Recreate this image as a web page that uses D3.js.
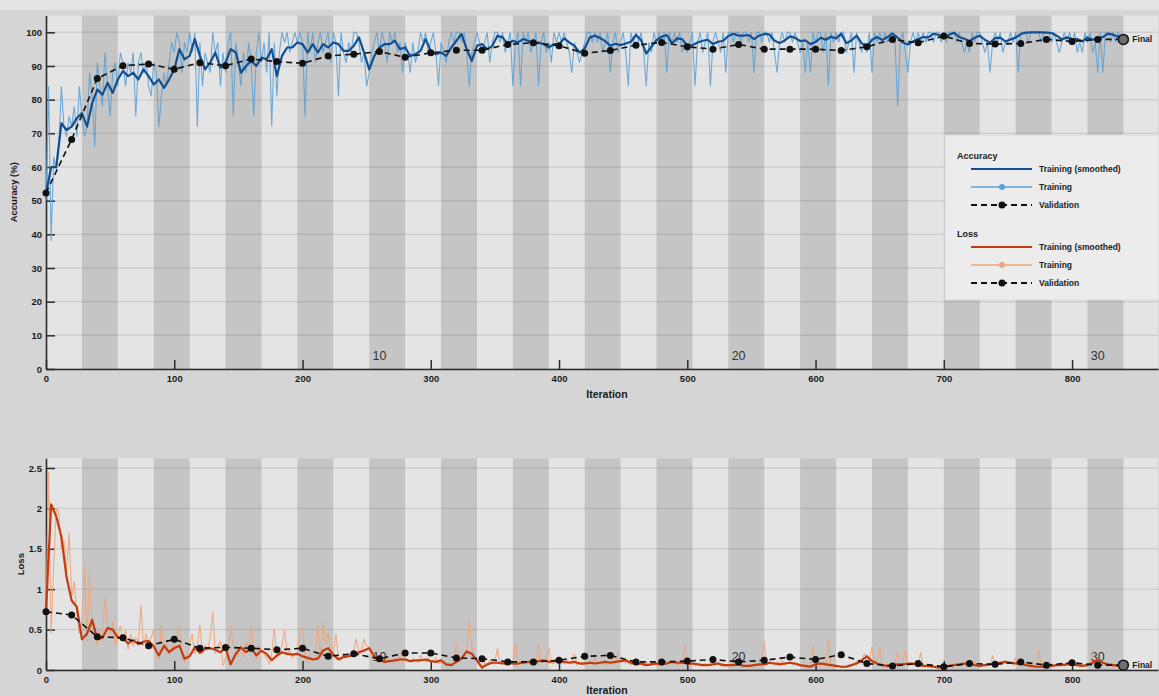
<!DOCTYPE html>
<html lang="en">
<head>
<meta charset="UTF-8">
<title>Training Progress</title>
<style>
    body {
        margin: 0;
        background: #d5d5d5;
        overflow: hidden;
    }
    svg {
        display: block;
    }
    text {
        font-family: "Liberation Sans", Arial, sans-serif;
        fill: #1a1a1a;
    }
</style>
</head>
<body>
<svg width="1159" height="696"></svg>
<script src="https://d3js.org/d3.v7.min.js"></script>
<script>
    // training setup
    const ITERS_PER_EPOCH = 28;
    const NUM_EPOCHS = 30;
    const FINAL_ITER = 840;
    const VAL_EVERY = 20;   // validation frequency (iterations)
    const RAW_STEP = 2;     // raw mini-batch values, every 2 iterations
    const SMOOTH_STEP = 4;  // smoothed curve, every 4 iterations

    const iterTicks = [0, 100, 200, 300, 400, 500, 600, 700, 800];
    const accTicks = [0, 10, 20, 30, 40, 50, 60, 70, 80, 90, 100];
    const lossTicks = [0, 0.5, 1, 1.5, 2, 2.5];
    const epochLabels = [10, 20, 30];

    // accuracy (%) - training mini-batch, every 2 iterations
    const accTrain = [
        50, 84, 38, 63, 59, 66, 84, 72, 69, 75,
        72, 78, 69, 84, 75, 69, 72, 88, 81, 66,
        91, 84, 78, 94, 84, 75, 88, 91, 84, 94,
        91, 84, 91, 88, 94, 75, 91, 94, 88, 91,
        84, 81, 91, 88, 72, 81, 88, 84, 91, 97,
        94, 100, 97, 88, 97, 94, 100, 94, 100, 72,
        97, 84, 94, 91, 88, 100, 94, 97, 84, 94,
        88, 97, 100, 75, 97, 91, 84, 94, 88, 97,
        91, 75, 94, 100, 91, 97, 88, 100, 72, 97,
        81, 94, 100, 97, 100, 94, 97, 100, 97, 100,
        97, 75, 100, 94, 100, 91, 97, 100, 94, 97,
        100, 91, 100, 97, 81, 100, 94, 91, 97, 94,
        100, 100, 97, 91, 94, 84, 88, 94, 97, 100,
        94, 100, 97, 91, 100, 97, 100, 94, 97, 88,
        97, 94, 88, 97, 91, 94, 100, 97, 100, 94,
        97, 100, 94, 84, 97, 94, 91, 97, 100, 97,
        100, 100, 97, 100, 94, 84, 94, 97, 100, 97,
        94, 97, 100, 91, 97, 100, 100, 97, 100, 94,
        97, 100, 84, 97, 100, 84, 100, 97, 100, 94,
        97, 100, 84, 97, 100, 94, 97, 91, 100, 97,
        100, 97, 100, 97, 94, 88, 97, 94, 91, 94,
        97, 100, 100, 97, 100, 97, 100, 94, 97, 100,
        88, 97, 100, 94, 97, 100, 94, 84, 100, 97,
        100, 97, 100, 94, 84, 97, 94, 100, 97, 100,
        97, 100, 88, 100, 97, 100, 97, 100, 94, 97,
        94, 97, 100, 84, 97, 100, 94, 97, 100, 84,
        97, 100, 97, 94, 100, 88, 100, 100, 97, 100,
        100, 97, 100, 100, 97, 100, 88, 100, 100, 97,
        100, 100, 97, 100, 94, 88, 97, 100, 97, 100,
        100, 97, 100, 97, 94, 97, 88, 97, 88, 100,
        97, 100, 100, 94, 100, 84, 100, 97, 100, 97,
        100, 100, 94, 97, 100, 88, 100, 97, 94, 97,
        94, 100, 88, 100, 97, 100, 97, 100, 97, 100,
        100, 97, 78, 97, 100, 94, 88, 97, 100, 97,
        100, 97, 100, 97, 100, 100, 97, 100, 100, 97,
        100, 97, 100, 100, 100, 97, 100, 97, 94, 97,
        94, 100, 97, 100, 100, 97, 94, 97, 88, 97,
        100, 97, 100, 94, 97, 97, 100, 97, 100, 88,
        100, 100, 100, 97, 100, 100, 100, 100, 97, 100,
        100, 100, 97, 100, 97, 94, 97, 100, 97, 100,
        97, 100, 94, 97, 94, 100, 97, 100, 94, 97,
        88, 100, 88, 100, 100, 97, 100, 97, 100, 97,
        97
    ];

    // accuracy (%) - smoothed, every 4 iterations
    const accSmooth = [
        52, 60, 60, 73, 71, 72, 74.5, 76, 72, 79,
        83, 81.5, 85, 82, 86, 88.5, 87, 88, 86, 89,
        87, 84.5, 86, 83.5, 86, 89, 95, 92, 93, 98,
        93, 89, 91, 94, 89.5, 91, 95, 94, 88, 90,
        91.5, 90, 92.5, 92, 95, 87, 93, 95.5, 95.5, 97,
        96.5, 94, 96.5, 94, 96.5, 95.5, 97, 96.5, 94.5, 94.5,
        96, 98.5, 94, 89, 93, 95.5, 96.5, 96.5, 97.5, 95,
        95.5, 93, 93.5, 94.5, 98, 94.5, 93.5, 94, 93, 95.5,
        97.5, 99.5, 95, 91.5, 96, 96.5, 95, 96, 99, 98.5,
        96.5, 97.5, 97, 98, 97.5, 96.5, 97, 96.5, 95.5, 96.5,
        96.5, 98.2, 97, 96, 94, 95.2, 98.5, 99, 98.3, 97.4,
        96, 96.6, 96.2, 96.7, 97.2, 99.2, 97.7, 93.7, 95.7, 97.7,
        98.7, 99.2, 96.7, 98.2, 98, 96, 96.2, 97, 97.5, 97.8,
        96.5, 97.2, 97.5, 98.9, 99.6, 99, 99, 99.2, 98, 99,
        99.5, 99.4, 97.5, 96.8, 97.6, 98.8, 98.4, 97.4, 97.6, 96.5,
        97.1, 98.4, 97.8, 98.7, 98.2, 99.6, 96.8, 97.6, 99, 96.7,
        95.7, 97.8, 98.6, 97.7, 98.6, 99.6, 98.4, 97, 96.4, 97.3,
        98, 98.6, 98.5, 99.6, 99.2, 98.2, 99.2, 99.9, 98.6, 98.1,
        97.4, 98.4, 99, 97.8, 96.9, 98.3, 98.4, 97.3, 97.9, 98.4,
        99.5, 99.9, 100, 100, 100, 99.9, 99.8, 99, 97.9, 98.5,
        98, 98, 97.3, 98.5, 97.8, 98.2, 98.6, 99.6, 99.3, 98.7,
        98
    ];

    // accuracy (%) - validation, every 20 iterations
    const accVal = [
        52.3, 68.2, 86.3, 90.1, 90.6, 89.0, 91.0, 90.1, 92.1, 91.3,
        90.8, 93.0, 93.5, 94.3, 92.6, 93.9, 94.7, 94.7, 96.4, 96.9,
        96.0, 93.8, 94.6, 96.2, 97.0, 95.7, 95.0, 96.4, 95.0, 95.0,
        95.0, 94.6, 95.7, 97.9, 96.9, 98.9, 96.7, 96.5, 96.7, 97.9,
        97.3, 97.9, 97.9
    ];

    // loss - training mini-batch, every 2 iterations
    const lossTrain = [
        0.72, 2.45, 0.45, 1.3, 2.0, 1.95, 1.5, 1.6, 1.2, 1.7,
        0.9, 1.1, 0.7, 0.45, 0.6, 1.3, 0.35, 1.2, 0.55, 0.45,
        0.3, 0.5, 0.35, 0.9, 0.55, 0.45, 0.6, 0.3, 0.4, 0.55,
        0.35, 0.5, 0.25, 0.45, 0.3, 0.4, 0.35, 0.8, 0.3, 0.45,
        0.3, 0.4, 0.5, 0.2, 0.12, 0.55, 0.25, 0.35, 0.2, 0.3,
        0.28, 0.4, 0.55, 0.15, 0.1, 0.2, 0.3, 0.45, 0.2, 0.3,
        0.56, 0.2, 0.3, 0.25, 0.4, 0.72, 0.2, 0.3, 0.35, 0.05,
        0.15, 0.22, 0.55, 0.3, 0.25, 0.2, 0.3, 0.15, 0.35, 0.25,
        0.55, 0.2, 0.15, 0.3, 0.25, 0.2, 0.15, 0.08, 0.2, 0.52,
        0.15, 0.2, 0.3, 0.5, 0.2, 0.25, 0.15, 0.2, 0.2, 0.5,
        0.52, 0.15, 0.1, 0.2, 0.12, 0.15, 0.56, 0.15, 0.58, 0.3,
        0.45, 0.25, 0.2, 0.45, 0.15, 0.12, 0.2, 0.15, 0.2, 0.18,
        0.25, 0.39, 0.2, 0.25, 0.38, 0.3, 0.28, 0.15, 0.2, 0.1,
        0.15, 0.1, 0.08, 0.15, 0.12, 0.1, 0.15, 0.12, 0.2, 0.1,
        0.15, 0.12, 0.1, 0.14, 0.12, 0.1, 0.18, 0.12, 0.1, 0.15,
        0.1, 0.12, 0.15, 0.08, 0.1, 0.12, 0.05, 0.08, 0.06, 0.1,
        0.33, 0.12, 0.15, 0.2, 0.25, 0.62, 0.3, 0.15, 0.1, 0.05,
        0.03, 0.1, 0.05, 0.12, 0.08, 0.1, 0.27, 0.08, 0.1, 0.06,
        0.1, 0.08, 0.1, 0.33, 0.06, 0.1, 0.12, 0.08, 0.1, 0.12,
        0.08, 0.1, 0.33, 0.12, 0.1, 0.12, 0.27, 0.1, 0.08, 0.12,
        0.15, 0.1, 0.08, 0.12, 0.1, 0.08, 0.2, 0.06, 0.1, 0.08,
        0.1, 0.06, 0.12, 0.08, 0.15, 0.06, 0.1, 0.08, 0.12, 0.06,
        0.1, 0.12, 0.08, 0.2, 0.1, 0.15, 0.08, 0.1, 0.06, 0.08,
        0.1, 0.06, 0.08, 0.05, 0.1, 0.06, 0.08, 0.1, 0.05, 0.08,
        0.06, 0.1, 0.08, 0.12, 0.08, 0.1, 0.06, 0.08, 0.12, 0.31,
        0.08, 0.06, 0.1, 0.05, 0.08, 0.06, 0.05, 0.08, 0.06, 0.05,
        0.08, 0.06, 0.1, 0.05, 0.08, 0.04, 0.06, 0.05, 0.08, 0.06,
        0.05, 0.08, 0.04, 0.06, 0.05, 0.03, 0.08, 0.05, 0.06, 0.08,
        0.35, 0.06, 0.1, 0.08, 0.06, 0.1, 0.08, 0.12, 0.06, 0.08,
        0.1, 0.06, 0.08, 0.05, 0.06, 0.04, 0.05, 0.03, 0.06, 0.31,
        0.06, 0.08, 0.05, 0.1, 0.06, 0.37, 0.05, 0.06, 0.04, 0.05,
        0.03, 0.05, 0.04, 0.06, 0.05, 0.08, 0.1, 0.08, 0.12, 0.2,
        0.15, 0.12, 0.29, 0.08, 0.1, 0.28, 0.06, 0.05, 0.04, 0.06,
        0.05, 0.08, 0.22, 0.06, 0.08, 0.25, 0.05, 0.08, 0.06, 0.1,
        0.05, 0.22, 0.04, 0.06, 0.05, 0.03, 0.04, 0.05, 0.03, 0.04,
        0.03, 0.05, 0.04, 0.06, 0.08, 0.06, 0.07, 0.09, 0.06, 0.1,
        0.08, 0.06, 0.1, 0.05, 0.04, 0.06, 0.05, 0.08, 0.06, 0.17,
        0.06, 0.08, 0.1, 0.08, 0.12, 0.08, 0.1, 0.06, 0.15, 0.08,
        0.08, 0.1, 0.06, 0.05, 0.04, 0.06, 0.05, 0.25, 0.04, 0.05,
        0.03, 0.05, 0.04, 0.06, 0.05, 0.06, 0.08, 0.05, 0.06, 0.08,
        0.07, 0.05, 0.06, 0.04, 0.05, 0.06, 0.04, 0.08, 0.25, 0.1,
        0.12, 0.08, 0.1, 0.06, 0.05, 0.08, 0.04, 0.06, 0.05, 0.04,
        0.05
    ];

    // loss - smoothed, every 4 iterations
    const lossSmooth = [
        0.74, 2.05, 1.9, 1.65, 1.15, 0.86, 0.78, 0.38, 0.45, 0.62,
        0.38, 0.40, 0.52, 0.5, 0.4, 0.39, 0.33, 0.37, 0.32, 0.35,
        0.36, 0.29, 0.18, 0.3, 0.22, 0.27, 0.3, 0.14, 0.17, 0.28,
        0.21, 0.26, 0.27, 0.25, 0.22, 0.27, 0.07, 0.2, 0.28, 0.22,
        0.27, 0.18, 0.24, 0.2, 0.12, 0.18, 0.22, 0.2, 0.19, 0.2,
        0.17, 0.15, 0.13, 0.14, 0.24, 0.27, 0.19, 0.13, 0.16, 0.17,
        0.19, 0.22, 0.24, 0.27, 0.17, 0.13, 0.1, 0.11, 0.12, 0.13,
        0.13, 0.11, 0.12, 0.12, 0.13, 0.11, 0.1, 0.12, 0.07, 0.06,
        0.1, 0.14, 0.23, 0.2, 0.12, 0.03, 0.07, 0.09, 0.09, 0.08,
        0.09, 0.08, 0.08, 0.09, 0.1, 0.09, 0.11, 0.12, 0.1, 0.11,
        0.12, 0.1, 0.09, 0.1, 0.08, 0.08, 0.09, 0.08, 0.09, 0.1,
        0.09, 0.1, 0.11, 0.12, 0.09, 0.08, 0.08, 0.06, 0.07, 0.08,
        0.07, 0.08, 0.1, 0.09, 0.09, 0.08, 0.08, 0.07, 0.06, 0.06,
        0.07, 0.08, 0.06, 0.06, 0.06, 0.07, 0.05, 0.05, 0.06, 0.07,
        0.07, 0.09, 0.08, 0.07, 0.08, 0.09, 0.08, 0.06, 0.05, 0.04,
        0.07, 0.08, 0.07, 0.06, 0.05, 0.04, 0.04, 0.06, 0.08, 0.12,
        0.17, 0.11, 0.08, 0.06, 0.05, 0.06, 0.07, 0.07, 0.08, 0.08,
        0.06, 0.05, 0.05, 0.04, 0.03, 0.04, 0.05, 0.06, 0.07, 0.08,
        0.08, 0.06, 0.05, 0.06, 0.07, 0.08, 0.09, 0.1, 0.09, 0.08,
        0.08, 0.06, 0.05, 0.04, 0.04, 0.04, 0.05, 0.06, 0.06, 0.07,
        0.07, 0.06, 0.05, 0.06, 0.09, 0.12, 0.09, 0.07, 0.06, 0.05,
        0.05
    ];

    // loss - validation, every 20 iterations
    const lossVal = [
        0.72, 0.68, 0.41, 0.40, 0.30, 0.38, 0.27, 0.28, 0.27, 0.25,
        0.27, 0.17, 0.20, 0.14, 0.21, 0.21, 0.15, 0.14, 0.10, 0.10,
        0.12, 0.17, 0.18, 0.10, 0.10, 0.11, 0.13, 0.10, 0.12, 0.16,
        0.13, 0.19, 0.08, 0.05, 0.08, 0.04, 0.08, 0.07, 0.10, 0.06,
        0.09, 0.06, 0.06
    ];

    const svg = d3.select("svg");
    const W = 1159;

    svg.append("rect").attr("width", W).attr("height", 696).attr("fill", "#d5d5d5");
    svg.append("rect").attr("width", W).attr("height", 10).attr("fill", "#e3e3e3");

    const x = d3.scaleLinear().domain([0, 867]).range([46, 1158]);

    function drawPanel(p) {
        const g = svg.append("g");
        const y = p.y;
        const [yBottom, yTop] = y.range();

        // epoch bands
        g.append("rect")
            .attr("x", x(0)).attr("y", yTop)
            .attr("width", x.range()[1] - x(0)).attr("height", yBottom - yTop)
            .attr("fill", "#e4e4e4");
        g.selectAll("rect.band")
            .data(d3.range(2, NUM_EPOCHS + 1, 2))
            .join("rect")
            .attr("class", "band")
            .attr("x", k => x((k - 1) * ITERS_PER_EPOCH))
            .attr("y", yTop)
            .attr("width", k => x(k * ITERS_PER_EPOCH) - x((k - 1) * ITERS_PER_EPOCH))
            .attr("height", yBottom - yTop)
            .attr("fill", "#c5c5c5");

        // horizontal grid
        g.selectAll("line.grid")
            .data(p.ticks)
            .join("line")
            .attr("class", "grid")
            .attr("x1", x(0)).attr("x2", x.range()[1])
            .attr("y1", d => y(d)).attr("y2", d => y(d))
            .attr("stroke", "#000").attr("stroke-opacity", 0.09).attr("stroke-width", 1.5);

        // epoch numbers
        g.selectAll("text.epoch")
            .data(epochLabels)
            .join("text")
            .attr("class", "epoch")
            .attr("x", k => x(k * ITERS_PER_EPOCH - 20))
            .attr("y", yBottom - 9)
            .attr("text-anchor", "middle")
            .attr("font-size", 12.5)
            .style("fill", "#333")
            .text(k => k);

        // axes
        const yAxis = d3.axisLeft(y).tickValues(p.ticks).tickFormat(p.fmt)
            .tickSizeInner(-9).tickSizeOuter(0).tickPadding(4);
        const xAxis = d3.axisBottom(x).tickValues(iterTicks).tickFormat(d3.format("d"))
            .tickSizeInner(-9).tickSizeOuter(0).tickPadding(6);

        const ya = g.append("g").attr("transform", `translate(${x(0)},0)`).call(yAxis);
        const xa = g.append("g").attr("transform", `translate(0,${yBottom})`).call(xAxis);
        [ya, xa].forEach(a => {
            a.select(".domain").attr("stroke", "#2b2b2b").attr("stroke-width", 1.6);
            a.selectAll(".tick line").attr("stroke", "#2b2b2b").attr("stroke-width", 1.5);
            a.selectAll(".tick text")
                .attr("font-family", "'Liberation Sans', Arial, sans-serif")
                .attr("font-size", 9.5).attr("font-weight", "bold")
                .style("fill", "#1a1a1a");
        });

        // axis labels
        g.append("text")
            .attr("transform", `translate(${p.labelX},${(yTop + yBottom) / 2}) rotate(-90)`)
            .attr("text-anchor", "middle")
            .attr("font-size", 9.5).attr("font-weight", "bold")
            .text(p.label);
        g.append("text")
            .attr("x", 607).attr("y", p.iterLabelY)
            .attr("text-anchor", "middle")
            .attr("font-size", 10.5).attr("font-weight", "bold")
            .text("Iteration");

        // data
        const rawLine = d3.line().x((d, i) => x(i * RAW_STEP)).y(d => y(d));
        const smoothLine = d3.line().x((d, i) => x(i * SMOOTH_STEP)).y(d => y(d));
        const valLine = d3.line().x((d, i) => x(i * VAL_EVERY)).y(d => y(d));

        g.append("path").datum(p.raw)
            .attr("d", rawLine).attr("fill", "none")
            .attr("stroke", p.rawColor).attr("stroke-width", 1.1).attr("stroke-opacity", 0.9);
        g.append("path").datum(p.smooth)
            .attr("d", smoothLine).attr("fill", "none")
            .attr("stroke", p.smoothColor).attr("stroke-width", 2.2).attr("stroke-linejoin", "round");
        g.append("path").datum(p.val)
            .attr("d", valLine).attr("fill", "none")
            .attr("stroke", "#111").attr("stroke-width", 1.6).attr("stroke-dasharray", "6,4");
        g.selectAll("circle.val")
            .data(p.val.slice(0, -1))
            .join("circle")
            .attr("class", "val")
            .attr("cx", (d, i) => x(i * VAL_EVERY))
            .attr("cy", d => y(d))
            .attr("r", 3.5)
            .attr("fill", "#111");

        // final point
        const last = p.val[p.val.length - 1];
        g.append("circle")
            .attr("cx", x(FINAL_ITER)).attr("cy", y(last)).attr("r", 5)
            .attr("fill", "#6e6e6e").attr("stroke", "#111").attr("stroke-width", 1.5);
        g.append("text")
            .attr("x", x(FINAL_ITER) + 9).attr("y", y(last))
            .attr("dy", "0.35em")
            .attr("font-size", 8.5).attr("font-weight", "bold")
            .text("Final");
    }

    drawPanel({
        y: d3.scaleLinear().domain([0, 105]).range([369, 15.5]),
        ticks: accTicks,
        fmt: d3.format("d"),
        raw: accTrain, smooth: accSmooth, val: accVal,
        rawColor: "#5fa2d4", smoothColor: "#124f91",
        label: "Accuracy (%)", labelX: 17, iterLabelY: 398
    });

    drawPanel({
        y: d3.scaleLinear().domain([0, 2.62]).range([670, 458.3]),
        ticks: lossTicks,
        fmt: d => String(d),
        raw: lossTrain, smooth: lossSmooth, val: lossVal,
        rawColor: "#eea47a", smoothColor: "#c23c10",
        label: "Loss", labelX: 24, iterLabelY: 694
    });

    // legend
    const lg = svg.append("g").attr("transform", "translate(945,135)");
    lg.append("rect")
        .attr("width", 214).attr("height", 165)
        .attr("fill", "#ececec").attr("stroke", "#dadada");

    const legendGroups = [
        { title: "Accuracy", top: 0, smooth: "#124f91", raw: "#5fa2d4" },
        { title: "Loss", top: 78, smooth: "#c23c10", raw: "#eea47a" }
    ];
    legendGroups.forEach(gr => {
        const gg = lg.append("g").attr("transform", `translate(0,${gr.top})`);
        gg.append("text").attr("x", 12).attr("y", 24)
            .attr("font-size", 9).attr("font-weight", "bold").text(gr.title);
        const rows = [
            { name: "Training (smoothed)", color: gr.smooth, w: 2, dash: null, dot: null },
            { name: "Training", color: gr.raw, w: 1.5, dash: null, dot: gr.raw },
            { name: "Validation", color: "#111", w: 1.8, dash: "6,4", dot: "#111" }
        ];
        rows.forEach((r, i) => {
            const yy = 34 + i * 18;
            gg.append("line")
                .attr("x1", 26).attr("x2", 87).attr("y1", yy).attr("y2", yy)
                .attr("stroke", r.color).attr("stroke-width", r.w)
                .attr("stroke-dasharray", r.dash);
            if (r.dot) {
                gg.append("circle").attr("cx", 57).attr("cy", yy).attr("r", r.dash ? 3.5 : 3)
                    .attr("fill", r.dot);
            }
            gg.append("text").attr("x", 94).attr("y", yy).attr("dy", "0.35em")
                .attr("font-size", 8.5).attr("font-weight", "bold")
                .style("fill", "#222")
                .text(r.name);
        });
    });
</script>
</body>
</html>
